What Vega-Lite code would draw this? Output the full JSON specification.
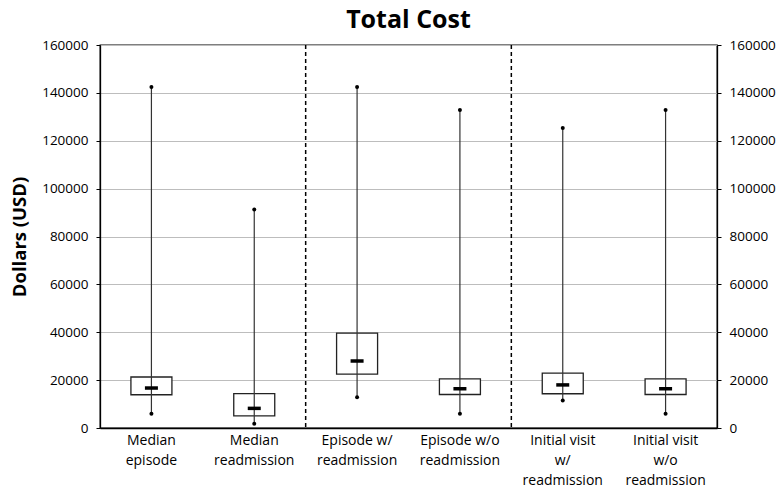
{
  "$schema": "https://vega.github.io/schema/vega-lite/v6.json",
  "width": 617,
  "height": 383,
  "autosize": {"type": "none"},
  "padding": {"left": 100, "top": 45, "right": 61, "bottom": 60},
  "background": "white",
  "title": {"text": "Total Cost", "font": "Open Sans", "fontSize": 25, "fontWeight": "bold", "color": "black", "offset": 5},
  "config": {"view": {"stroke": "black", "strokeWidth": 1.3}, "font": "Open Sans"},
  "data": {"values": [
    {"cat": "Median|episode", "min": 6000, "q1": 13900, "median": 16700, "q3": 21300, "max": 142500},
    {"cat": "Median|readmission", "min": 1800, "q1": 5100, "median": 8200, "q3": 14400, "max": 91300},
    {"cat": "Episode w/|readmission", "min": 12800, "q1": 22500, "median": 28000, "q3": 39600, "max": 142500},
    {"cat": "Episode w/o|readmission", "min": 6000, "q1": 14000, "median": 16400, "q3": 20500, "max": 132800},
    {"cat": "Initial visit|w/|readmission", "min": 11500, "q1": 14300, "median": 18000, "q3": 22900, "max": 125300},
    {"cat": "Initial visit|w/o|readmission", "min": 6000, "q1": 14000, "median": 16400, "q3": 20500, "max": 132800}
  ]},
  "encoding": {
    "x": {
      "field": "cat", "type": "nominal", "sort": null,
      "scale": {"paddingInner": 0, "paddingOuter": 0},
      "axis": {
        "title": null, "labelAngle": 0, "labelExpr": "split(datum.label, '|')",
        "labelFont": "Open Sans", "labelFontSize": 14, "labelLineHeight": 20, "labelColor": "black",
        "labelPadding": 5, "ticks": false, "domainColor": "black", "domainWidth": 1.3
      }
    }
  },
  "layer": [
    {
      "mark": {"type": "bar", "size": 41, "fill": "white", "stroke": "#222222", "strokeWidth": 1.3},
      "encoding": {
        "y": {
          "field": "q1", "type": "quantitative",
          "scale": {"domain": [0, 160000], "nice": false},
          "axis": {
            "orient": "left", "values": [0, 20000, 40000, 60000, 80000, 100000, 120000, 140000, 160000],
            "format": "d", "grid": true, "gridColor": "#bdbdbd", "gridWidth": 1.2,
            "labelFont": "Open Sans", "labelFontSize": 13.5, "labelColor": "black", "labelPadding": 8,
            "tickSize": 4, "tickColor": "black", "domainColor": "black", "domainWidth": 1.3,
            "title": "Dollars (USD)", "titleFont": "Open Sans", "titleFontSize": 18.5, "titleFontWeight": "bold",
            "titleColor": "black", "titlePadding": 12
          }
        },
        "y2": {"field": "q3"}
      }
    },
    {
      "mark": {"type": "rule", "color": "#333333", "strokeWidth": 1.2},
      "encoding": {
        "y": {
          "field": "min", "type": "quantitative",
          "axis": {
            "orient": "right", "values": [0, 20000, 40000, 60000, 80000, 100000, 120000, 140000, 160000],
            "format": "d", "grid": false,
            "labelFont": "Open Sans", "labelFontSize": 13.5, "labelColor": "black", "labelPadding": 8,
            "tickSize": 4, "tickColor": "black", "domainColor": "black", "domainWidth": 1.3, "title": null
          }
        },
        "y2": {"field": "max"}
      }
    },
    {
      "mark": {"type": "tick", "size": 13, "thickness": 3.5, "color": "black", "opacity": 1},
      "encoding": {"y": {"field": "median", "type": "quantitative", "axis": null}}
    },
    {
      "mark": {"type": "point", "filled": true, "size": 16, "color": "black", "opacity": 1},
      "encoding": {"y": {"field": "min", "type": "quantitative", "axis": null}}
    },
    {
      "mark": {"type": "point", "filled": true, "size": 16, "color": "black", "opacity": 1},
      "encoding": {"y": {"field": "max", "type": "quantitative", "axis": null}}
    },
    {
      "data": {"values": [{"cat": "Median|readmission"}, {"cat": "Episode w/o|readmission"}]},
      "mark": {"type": "rule", "color": "black", "strokeWidth": 1.5, "strokeDash": [4, 3]},
      "encoding": {"x": {"field": "cat", "type": "nominal", "sort": null, "bandPosition": 1}}
    }
  ],
  "resolve": {"axis": {"y": "independent"}}
}
